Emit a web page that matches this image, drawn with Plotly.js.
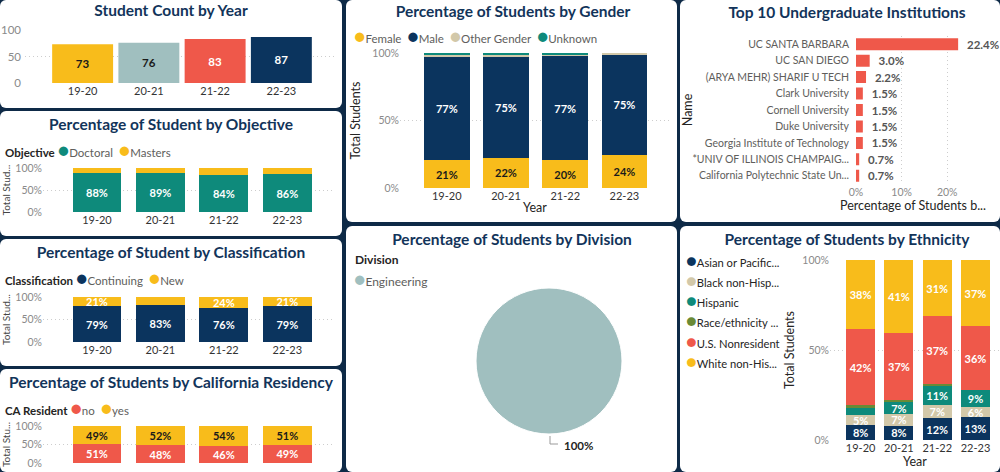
<!DOCTYPE html>
<html>
<head>
<meta charset="utf-8">
<script src="https://cdn.plot.ly/plotly-3.0.1.min.js"></script>
<style>
html,body{margin:0;padding:0;width:1000px;height:472px;overflow:hidden;background:#0E2A47;}
.panel{position:absolute;background:#ffffff;border-radius:6px;overflow:hidden;}
</style>
</head>
<body>
<div id="pCount" class="panel" style="left:0px;top:0px;width:342px;height:108px"></div>
<div id="pObj" class="panel" style="left:0px;top:111px;width:342px;height:125px"></div>
<div id="pClass" class="panel" style="left:0px;top:239px;width:342px;height:127px"></div>
<div id="pCA" class="panel" style="left:0px;top:369px;width:342px;height:103px"></div>
<div id="pGender" class="panel" style="left:346px;top:0px;width:331px;height:222px"></div>
<div id="pDiv" class="panel" style="left:346px;top:226px;width:331px;height:246px"></div>
<div id="pTop" class="panel" style="left:680px;top:0px;width:320px;height:222px"></div>
<div id="pEth" class="panel" style="left:680px;top:226px;width:320px;height:246px"></div>
<script>
// ---------------- DATA ----------------
const years = ['19-20', '20-21', '21-22', '22-23'];
const studentCount = [73, 76, 83, 87];

// student counts per group (percentages shown are share of the yearly count)
const objectiveDoctoral = [64, 68, 70, 75];
const objectiveMasters = [9, 8, 13, 12];

const classContinuing = [58, 63, 63, 69];
const classNew = [15, 13, 20, 18];

const caResidentNoPct = [51, 48, 46, 49];
const caResidentYesPct = [49, 52, 54, 51];

const genderFemale = [15, 17, 17, 21];
const genderMale = [56, 57, 64, 65];
const genderOther = [1, 1, 1, 1];
const genderUnknown = [1, 1, 1, 0];

const institutions = ['UC SANTA BARBARA', 'UC SAN DIEGO', '(ARYA MEHR) SHARIF U TECH', 'Clark University',
  'Cornell University', 'Duke University', 'Georgia Institute of Technology',
  '*UNIV OF ILLINOIS CHAMPAIG...', 'California Polytechnic State Un...'];
const institutionPct = [22.4, 3.0, 2.2, 1.5, 1.5, 1.5, 1.5, 0.7, 0.7];

const divisions = ['Engineering'];
const divisionShare = [100];

const ethnicityLabels = ['Asian or Pacific...', 'Black non-Hisp...', 'Hispanic', 'Race/ethnicity ...', 'U.S. Nonresident', 'White non-His...'];
const ethAsian = [6, 6, 10, 11];
const ethBlack = [4, 5, 6, 5];
const ethHispanic = [3, 5, 9, 8];
const ethRaceUnknown = [1, 1, 1, 0];
const ethNonresident = [31, 28, 31, 31];
const ethWhite = [28, 31, 26, 32];

// ---------------- STYLE ----------------
const FONT = 'Lato, sans-serif';
const TITLE_COLOR = '#12345A';
const YELLOW = '#F8BC1B', SLATE = '#A0BFBF', RED = '#EF584A', NAVY = '#0B345E',
      TEAL = '#0E8A7B', BEIGE = '#D2C8A9', OLIVE = '#6A8A36';
const GRID = '#CDCDCD';
const CFG = {displayModeBar: false, staticPlot: true};

function pct(counts) { return counts.map((c, i) => c / studentCount[i] * 100); }
function labels(vals, min) { return vals.map(v => v >= min ? '<b>' + Math.round(v) + '%</b>' : ''); }

function baseLayout(W, H, m) {
  return {
    width: W, height: H,
    margin: {l: m.l, r: m.r, t: m.t, b: m.b, pad: 0},
    paper_bgcolor: 'rgba(0,0,0,0)', plot_bgcolor: 'rgba(0,0,0,0)',
    font: {family: FONT, size: 11, color: '#444'},
    showlegend: false, barmode: 'stack', bargap: 0.23,
    annotations: [], shapes: []
  };
}
function title(text, cx, cy, W, H) {
  return {text: '<b>' + text + '</b>', font: {family: FONT, size: 15.5, color: TITLE_COLOR},
    xref: 'container', yref: 'container', x: cx / W, y: 1 - cy / H, xanchor: 'center', yanchor: 'middle'};
}
function ann(W, H, m, px, py, text, font, xanchor, yanchor) {
  return {xref: 'paper', yref: 'paper', x: (px - m.l) / (W - m.l - m.r), y: 1 - (py - m.t) / (H - m.t - m.b),
    xanchor: xanchor || 'left', yanchor: yanchor || 'middle', align: 'left', showarrow: false, text: text,
    font: Object.assign({family: FONT, size: 11.5, color: '#605E5C'}, font || {})};
}
function dot(color, size) { return '<span style="color:' + color + ';font-size:' + (size || 19) + 'px">●</span>'; }
function legendLine(titleText, items) {
  let s = titleText ? '<b><span style="color:#252423">' + titleText + '</span></b>\u00a0' : '';
  s += items.map(it => dot(it[1]) + it[0]).join('\u00a0\u00a0');
  return s;
}
function pctYAxis(extra) {
  return Object.assign({
    range: [0, 100], tickvals: [0, 50, 100], ticktext: ['0%', '50%', '100%'],
    showgrid: true, gridcolor: GRID, griddash: '1px,3px', gridwidth: 1,
    zeroline: false, showline: false, ticks: '', automargin: false, fixedrange: true,
    tickfont: {size: 10.5, color: '#8A8A8A'}
  }, extra || {});
}
function catXAxis(range, extra) {
  return Object.assign({
    type: 'category', range: range, showgrid: false, zeroline: false, showline: false,
    ticks: '', automargin: false, fixedrange: true, tickfont: {size: 11, color: '#333'}
  }, extra || {});
}
function stackBar(vals, color, textColor, min) {
  return {type: 'bar', x: years, y: vals, marker: {color: color},
    text: labels(vals, min), textposition: 'inside', insidetextanchor: 'middle', textangle: 0,
    constraintext: 'none', textfont: {family: FONT, size: 11, color: textColor},
    hoverinfo: 'skip', showlegend: false, cliponaxis: false};
}

// ---------------- 1. Student count ----------------
(function () {
  const W = 342, H = 108, m = {l: 25, r: 5, t: 30, b: 25};
  const L = baseLayout(W, H, m);
  L.title = title('Student Count by Year', 171, 11, W, H);
  L.bargap = 0.08;
  L.xaxis = catXAxis([-0.87, 3.84]);
  L.yaxis = {range: [0, 100], tickvals: [0, 50, 100], showgrid: true, gridcolor: GRID, griddash: '1px,3px',
    zeroline: false, showline: false, ticks: '', automargin: false, ticklabelstandoff: 3,
    tickfont: {size: 11.5, color: '#8A8A8A'}};
  const tr = {type: 'bar', x: years, y: studentCount,
    marker: {color: [YELLOW, SLATE, RED, NAVY]},
    text: studentCount.map(v => '<b>' + v + '</b>'), textposition: 'inside', insidetextanchor: 'middle',
    textangle: 0, constraintext: 'none',
    textfont: {family: FONT, size: 11.5, color: ['#1a1a1a', '#1a1a1a', '#ffffff', '#ffffff']},
    hoverinfo: 'skip', showlegend: false};
  Plotly.newPlot('pCount', [tr], L, CFG);
})();

// ---------------- 2. Objective ----------------
(function () {
  const W = 342, H = 125, m = {l: 43, r: 9, t: 57, b: 24};
  const L = baseLayout(W, H, m);
  L.title = title('Percentage of Student by Objective', 171, 14, W, H);
  L.xaxis = catXAxis([-0.85, 3.72]);
  L.yaxis = pctYAxis({title: {text: 'Total Stud...', font: {size: 10, color: '#444'}, standoff: 4}});
  L.annotations.push(ann(W, H, m, 3, 38, legendLine('Objective', [['Doctoral', TEAL], ['Masters', YELLOW]])));
  Plotly.newPlot('pObj', [
    stackBar(pct(objectiveDoctoral), TEAL, '#ffffff', 20),
    stackBar(pct(objectiveMasters), YELLOW, '#ffffff', 20)
  ], L, CFG);
})();

// ---------------- 3. Classification ----------------
(function () {
  const W = 342, H = 127, m = {l: 43, r: 9, t: 58, b: 24};
  const L = baseLayout(W, H, m);
  L.title = title('Percentage of Student by Classification', 171, 14, W, H);
  L.xaxis = catXAxis([-0.85, 3.72]);
  L.yaxis = pctYAxis({title: {text: 'Total Stud...', font: {size: 10, color: '#444'}, standoff: 4}});
  L.annotations.push(ann(W, H, m, 3, 38, legendLine('Classification', [['Continuing', NAVY], ['New', YELLOW]])));
  Plotly.newPlot('pClass', [
    stackBar(pct(classContinuing), NAVY, '#ffffff', 20),
    stackBar(pct(classNew), YELLOW, '#ffffff', 20)
  ], L, CFG);
})();

// ---------------- 4. CA residency ----------------
(function () {
  const W = 342, H = 103, m = {l: 43, r: 9, t: 57, b: 9};
  const L = baseLayout(W, H, m);
  L.title = title('Percentage of Students by California Residency', 171, 14, W, H);
  L.xaxis = catXAxis([-0.85, 3.72], {showticklabels: false});
  L.yaxis = pctYAxis({title: {text: 'Total Stu...', font: {size: 10, color: '#444'}, standoff: 4}});
  L.annotations.push(ann(W, H, m, 3, 38, legendLine('CA Resident', [['no', RED], ['yes', YELLOW]])));
  Plotly.newPlot('pCA', [
    stackBar(caResidentNoPct, RED, '#ffffff', 5),
    stackBar(caResidentYesPct, YELLOW, '#1a1a1a', 5)
  ], L, CFG);
})();

// ---------------- 5. Gender ----------------
(function () {
  const W = 331, H = 222, m = {l: 54, r: 7, t: 53, b: 34};
  const L = baseLayout(W, H, m);
  L.title = title('Percentage of Students by Gender', 167, 12, W, H);
  L.xaxis = catXAxis([-0.79, 3.77], {title: {text: 'Year', font: {size: 12.5, color: '#252423'}, standoff: 2}});
  L.yaxis = pctYAxis({title: {text: 'Total Students', font: {size: 12.5, color: '#252423'}, standoff: 8}});
  L.annotations.push(ann(W, H, m, 6, 35, legendLine('', [['Female', YELLOW], ['Male', NAVY], ['Other Gender', BEIGE], ['Unknown', TEAL]])));
  Plotly.newPlot('pGender', [
    stackBar(pct(genderFemale), YELLOW, '#1a1a1a', 5),
    stackBar(pct(genderMale), NAVY, '#ffffff', 5),
    stackBar(pct(genderOther), BEIGE, '#ffffff', 5),
    stackBar(pct(genderUnknown), TEAL, '#ffffff', 5)
  ], L, CFG);
})();

// ---------------- 6. Division (pie) ----------------
(function () {
  const W = 331, H = 246, m = {l: 0, r: 0, t: 0, b: 0};
  const L = baseLayout(W, H, m);
  L.title = title('Percentage of Students by Division', 166, 14, W, H);
  const total = divisionShare.reduce((a, b) => a + b, 0);
  L.annotations.push(ann(W, H, m, 7, 34, '<b>Division</b>', {size: 12, color: '#252423'}));
  L.annotations.push(ann(W, H, m, 6, 52, dot(SLATE) + divisions[0], {size: 12, color: '#605E5C'}));
  L.annotations.push(ann(W, H, m, 216, 219, '<b>' + Math.round(divisionShare[0] / total * 100) + '%</b>', {size: 11.5, color: '#252423'}));
  L.shapes.push({type: 'path', xref: 'paper', yref: 'paper',
    path: 'M ' + (204 / W) + ' ' + (1 - 210 / H) + ' L ' + (204 / W) + ' ' + (1 - 218 / H) + ' L ' + (212 / W) + ' ' + (1 - 218 / H),
    line: {color: '#9A9A9A', width: 1}});
  Plotly.newPlot('pDiv', [{
    type: 'pie', labels: divisions, values: divisionShare, sort: false,
    marker: {colors: [SLATE], line: {color: '#ffffff', width: 1}},
    textinfo: 'none', hoverinfo: 'skip', showlegend: false,
    domain: {x: [130 / W, 276 / W], y: [1 - 208 / H, 1 - 62 / H]}
  }], L, CFG);
})();

// ---------------- 7. Top 10 institutions ----------------
(function () {
  const W = 320, H = 222, m = {l: 176, r: 30, t: 36, b: 38};
  const L = baseLayout(W, H, m);
  L.title = title('Top 10 Undergraduate Institutions', 167, 13, W, H);
  L.bargap = 0.27;
  L.xaxis = {range: [0, 25], tickvals: [0, 10, 20], ticktext: ['0%', '10%', '20%'],
    showgrid: true, gridcolor: GRID, griddash: '1px,3px', zeroline: false, showline: false, ticks: '',
    automargin: false, tickfont: {size: 10.5, color: '#8A8A8A'},
    title: {text: 'Percentage of Students b...', font: {size: 12.5, color: '#252423'}, standoff: 2}};
  L.yaxis = {type: 'category', autorange: 'reversed', showgrid: false, zeroline: false, showline: false,
    ticks: '', automargin: false, ticklabelstandoff: 6, tickfont: {size: 10.5, color: '#605E5C'},
    title: {text: 'Name', font: {size: 12.5, color: '#252423'}, standoff: 8}};
  Plotly.newPlot('pTop', [{
    type: 'bar', orientation: 'h', y: institutions, x: institutionPct,
    marker: {color: RED},
    text: institutionPct.map(v => '\u00a0\u00a0<b>' + v.toFixed(1) + '%</b>'), textposition: 'outside',
    constraintext: 'none', cliponaxis: false,
    textfont: {family: FONT, size: 11.5, color: '#555555'}, hoverinfo: 'skip', showlegend: false
  }], L, CFG);
})();

// ---------------- 8. Ethnicity ----------------
(function () {
  const W = 320, H = 246, m = {l: 150, r: 0, t: 34, b: 32};
  const L = baseLayout(W, H, m);
  L.title = title('Percentage of Students by Ethnicity', 167, 14, W, H);
  L.bargap = 0.24;
  L.xaxis = catXAxis([-0.8, 3.64], {title: {text: 'Year', font: {size: 12.5, color: '#252423'}, standoff: 2}});
  L.yaxis = pctYAxis({title: {text: 'Total Students', font: {size: 12.5, color: '#252423'}, standoff: 4}});
  const cols = [NAVY, BEIGE, TEAL, OLIVE, RED, YELLOW];
  // one legend block: line spacing follows the base font size (15.5 * 1.3 ≈ 20px)
  const legendText = ethnicityLabels.map((name, i) =>
    dot(cols[i], 18) + '<span style="font-size:11.2px">' + name + '</span>').join('<br>');
  L.annotations.push(ann(W, H, m, 4, 84.5, legendText, {size: 15.5, color: '#252423'}));
  const series = [ethAsian, ethBlack, ethHispanic, ethRaceUnknown, ethNonresident, ethWhite];
  const traces = series.map((s, i) => stackBar(pct(s), cols[i], '#ffffff', 5));
  Plotly.newPlot('pEth', traces, L, CFG);
})();
</script>
</body>
</html>
